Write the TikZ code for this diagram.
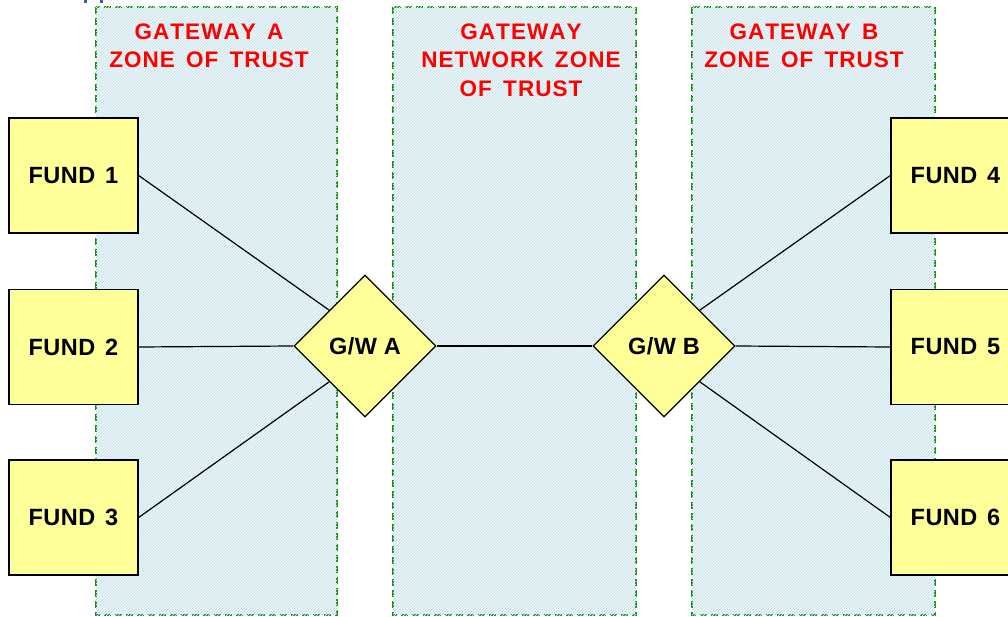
\documentclass[tikz,border=0pt]{standalone}
\usepackage{fontspec}
\setmainfont{Liberation Sans}
\newfontfamily\widesans[LetterSpace=4.5,Kerning=Off]{Liberation Sans}
\newfontfamily\labelsans[LetterSpace=2]{Liberation Sans}
\usetikzlibrary{shapes.geometric,patterns}
\definecolor{fundyellow}{HTML}{FFFF99}
\definecolor{zonefill}{HTML}{CFE8EE}
\definecolor{zoneedge}{HTML}{129112}
\definecolor{trustred}{HTML}{FF0000}
\definecolor{markblue}{HTML}{3B5E9E}
\tikzset{
  zonebox/.style={draw=zoneedge, line width=1.4pt, dash pattern=on 7pt off 4pt,
    fill=zonefill, postaction={pattern=north east lines, pattern color=white}},
  zonetitle/.style={text=trustred, font=\widesans\fontsize{22.5}{28.5}\selectfont\bfseries,
    align=center, anchor=north, inner sep=0pt},
  fundbox/.style={draw=black, line width=1.3pt, fill=fundyellow,
    minimum width=129pt, minimum height=115pt, inner sep=0pt,
    font=\labelsans\fontsize{23.5}{27}\selectfont\bfseries},
  gwnode/.style={diamond, draw=black, line width=1.3pt, fill=fundyellow,
    minimum width=142pt, minimum height=142pt, inner sep=0pt,
    font=\labelsans\fontsize{23.5}{27}\selectfont\bfseries},
  link/.style={draw=black, line width=1.2pt}
}
\newcommand\gap{\hspace{0.42em}}
\newcommand\wgap{\hspace{0.5em}}
\begin{document}
\begin{tikzpicture}[x=1pt, y=-1pt]
\useasboundingbox (0,0) rectangle (1008,617);
\clip (0,0) rectangle (1008,617);

% zones of trust
\draw[zonebox] (96,7) rectangle (337,615);
\draw[zonebox] (393,7) rectangle (636,615);
\draw[zonebox] (692,7) rectangle (935,615);

\node[zonetitle] (tA) at (209,23.5) {GATEWAY\wgap A\\ZONE\wgap OF\wgap TRUST};
\node[zonetitle] (tN) at (521,23.5) {GATEWAY\\NETWORK\wgap ZONE\\OF\wgap TRUST};
\node[zonetitle] (tB) at (804,23.5) {GATEWAY\wgap B\\ZONE\wgap OF\wgap TRUST};

% small marks along the top edge
\fill[markblue] (84,0) rectangle (86.5,3.5);
\fill[markblue] (100,0) rectangle (102.5,3.5);

% funds
\node[fundbox] (f1) at (73.5,175.5) {FUND\gap 1};
\node[fundbox] (f2) at (73.5,347) {FUND\gap 2};
\node[fundbox] (f3) at (73.5,517.5) {FUND\gap 3};
\node[fundbox] (f4) at (955.5,175.5) {FUND\gap 4};
\node[fundbox] (f5) at (955.5,347) {FUND\gap 5};
\node[fundbox] (f6) at (955.5,517.5) {FUND\gap 6};

% gateways
\node[gwnode] (ga) at (365,346) {G/W A};
\node[gwnode] (gb) at (664,346) {G/W B};

% links
\draw[link] (f1.east) -- (ga.north west);
\draw[link] (f2.east) -- (ga.west);
\draw[link] (f3.east) -- (ga.south west);
\draw[link] (ga.east) -- (gb.west);
\draw[link] (gb.north east) -- (f4.west);
\draw[link] (gb.east) -- (f5.west);
\draw[link] (gb.south east) -- (f6.west);
\end{tikzpicture}
\end{document}
